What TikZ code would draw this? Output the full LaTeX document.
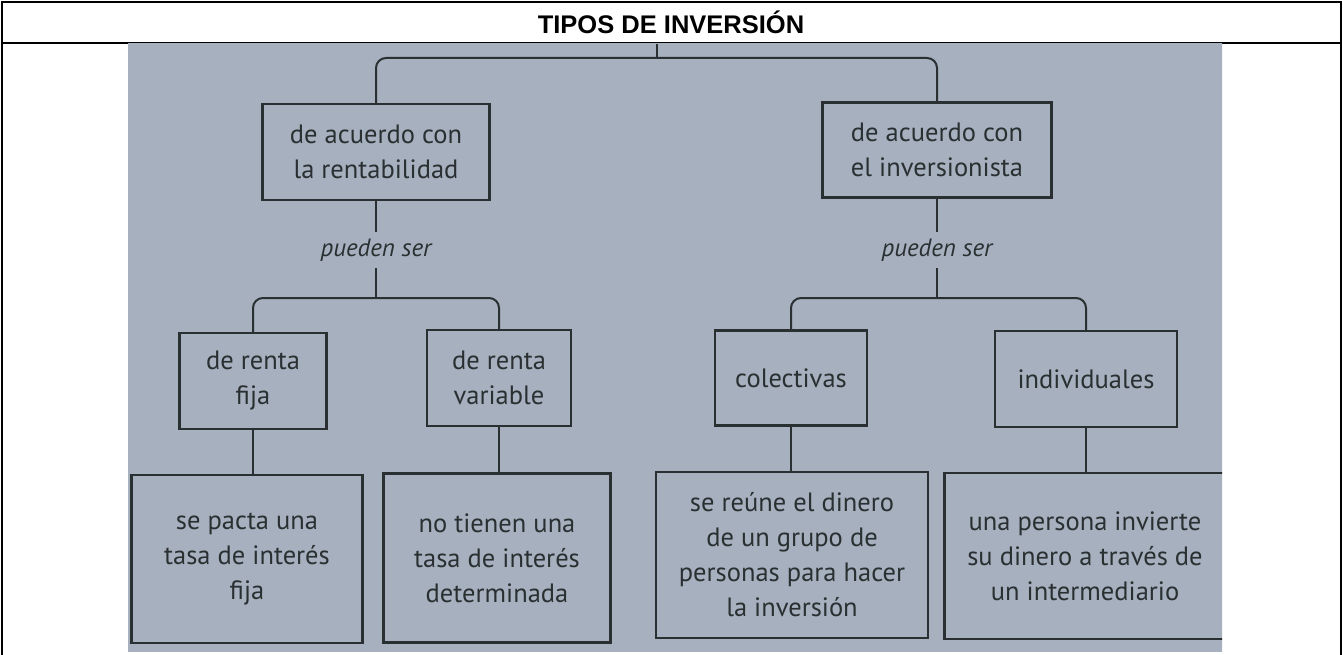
\documentclass[tikz,border=0pt]{standalone}
\usepackage{fontspec}
\setmainfont{PT Sans}
\newfontfamily\headfont{Liberation Sans}
\usepackage{xcolor}
\usetikzlibrary{positioning}
\definecolor{paper}{RGB}{184,193,206}
\definecolor{paperdark}{RGB}{166,176,190}
\definecolor{ink}{RGB}{42,48,50}

\begin{document}
\begin{tikzpicture}[x=1pt, y=-1pt]
            \tikzstyle{box} = [draw=ink, line width=2.2pt, text=ink, align=center, inner sep=0pt, font=\fontsize{26.5}{35}\selectfont];
            \tikzstyle{link} = [draw=ink, line width=2pt, rounded corners=10pt];
            \tikzstyle{verb} = [text=ink, inner sep=0pt, minimum height=36pt, font=\fontsize{25}{30}\selectfont\itshape];
            \useasboundingbox (0,0) rectangle (1343,655);

            % table frame and heading
            \draw [line width=2pt] (2,655) -- (2,2) -- (1341,2) -- (1341,655);
            \draw [line width=2pt] (2,43) -- (1341,43);
            \node (title) at (671,22) {\headfont\bfseries\fontsize{25.5}{30}\selectfont TIPOS DE INVERSIÓN};

            % the photographed page
            \shade [left color=paperdark, middle color=paper, right color=paperdark] (128,44) rectangle (1222,651);

            \begin{scope}
            \clip (128,44) rectangle (1222,651);
            \coordinate (top) at (657,44);
            \coordinate (J0) at (657,58);

            \node [box, minimum width=227pt, minimum height=96pt] (A) at (376,152) {de acuerdo con\\la rentabilidad};
            \node [box, minimum width=229pt, minimum height=95pt] (B) at (937,150) {de acuerdo con\\el inversionista};

            \node [verb] (PA) at (376,250) {pueden ser};
            \node [verb] (PB) at (937,250) {pueden ser};
            \coordinate (JA) at (376,298);
            \coordinate (JB) at (937,298);

            \node [box, minimum width=147pt, minimum height=96pt] (A1) at (253,381) {de renta\\fija};
            \node [box, minimum width=144pt, minimum height=96pt] (A2) at (499,378) {de renta\\variable};
            \node [box, minimum width=152pt, minimum height=95pt] (B1) at (791,378) {colectivas};
            \node [box, minimum width=182pt, minimum height=96pt] (B2) at (1086,379) {individuales};

            \node [box, minimum width=231pt, minimum height=168pt] (A1d) at (247,559) {se pacta una\\tasa de interés\\fija};
            \node [box, minimum width=227pt, minimum height=169pt] (A2d) at (497,558) {no tienen una\\tasa de interés\\determinada};
            \node [box, minimum width=272pt, minimum height=166pt] (B1d) at (792,555) {se reúne el dinero\\de un grupo de\\personas para hacer\\la inversión};
            \node [box, minimum width=281pt, minimum height=166pt] (B2d) at (1085,556) {una persona invierte\\su dinero a través de\\un intermediario};

            \draw [link] (top) -- (J0);
            \draw [link] (A.north) |- (J0) -| (B.north);

            \draw [link] (A) -- (PA);
            \draw [link] (B) -- (PB);
            \draw [link] (PA) -- (JA);
            \draw [link] (PB) -- (JB);
            \draw [link] (A1.north) |- (JA) -| (A2.north);
            \draw [link] (B1.north) |- (JB) -| (B2.north);

            \draw [link] (A1) -- (A1d.north -| A1);
            \draw [link] (A2) -- (A2d.north -| A2);
            \draw [link] (B1) -- (B1d.north -| B1);
            \draw [link] (B2) -- (B2d.north -| B2);
            \end{scope}
        \end{tikzpicture}
\end{document}
